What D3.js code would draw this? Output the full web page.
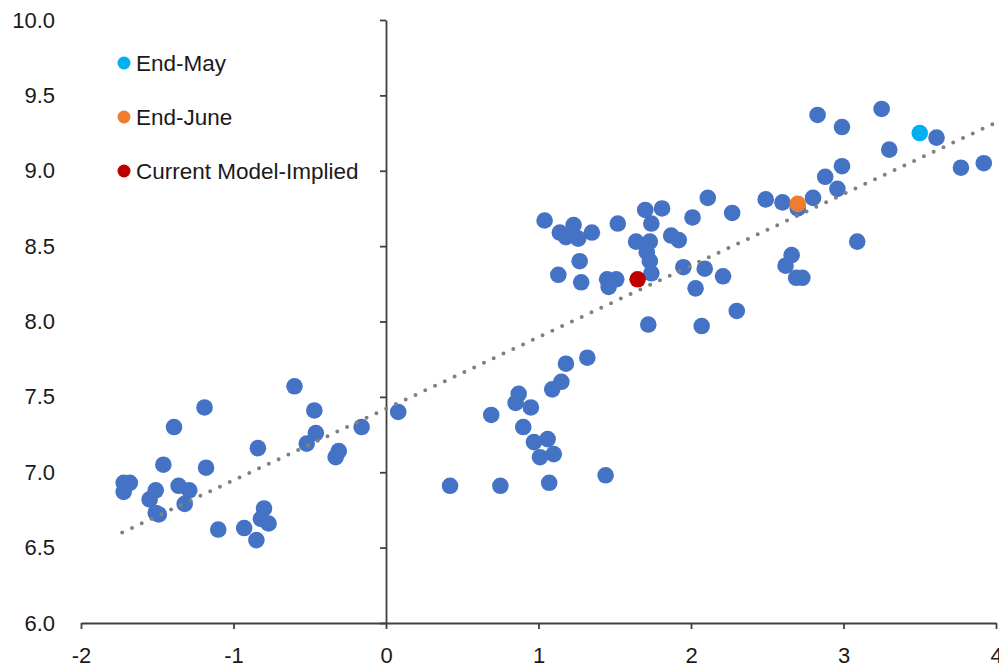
<!DOCTYPE html>
<html>
<head>
<meta charset="utf-8">
<script src="https://cdn.jsdelivr.net/npm/d3@7"></script>
<style>
  body { margin: 0; background: #fff; }
  text { font-family: "Liberation Sans", Arial, sans-serif; fill: #1a1a1a; }
  .axis path, .axis line { stroke: #404040; stroke-width: 1.8; }
  .axis text { font-size: 22px; fill: #1a1a1a; }
  .legend text { font-size: 22.5px; }
</style>
</head>
<body>
<div id="chart"></div>
<script>
const W = 999, H = 671;
const margin = { top: 20, right: 3, bottom: 48, left: 81 };
const width = W - margin.left - margin.right,
      height = H - margin.top - margin.bottom;

// scatter values
const xVals = [-0.60, -1.19, -1.39, -0.47, -0.16, -0.46, -0.52, -0.84, -0.31, -0.33,
  -1.46, -1.18, -1.72, -1.68, -1.72, -1.36, -1.29, -1.51, -1.55, -1.32,
  -1.51, -1.49, -0.80, -0.82, -0.77, -1.10, -0.93, -0.85, 0.08, 0.69,
  0.87, 0.85, 0.95, 0.90, 0.97, 1.06, 1.10, 1.01, 0.42, 0.75,
  1.07, 1.44, 1.09, 1.15, 1.18, 1.32, 1.04, 1.14, 1.23, 1.18,
  1.26, 1.35, 1.52, 1.27, 1.13, 1.28, 1.46, 1.51, 1.45, 1.70,
  1.81, 1.74, 1.64, 1.73, 1.71, 1.73, 1.74, 1.87, 1.92, 2.01,
  2.11, 2.27, 2.49, 1.95, 2.09, 2.21, 2.03, 2.30, 1.72, 2.07,
  2.83, 2.99, 3.25, 3.61, 3.30, 3.77, 3.92, 2.99, 2.88, 2.96,
  2.60, 2.80, 2.70, 3.09, 2.66, 2.62, 2.73, 2.69];
const yVals = [7.57, 7.43, 7.30, 7.41, 7.30, 7.26, 7.19, 7.16, 7.14, 7.10,
  7.05, 7.03, 6.93, 6.93, 6.87, 6.91, 6.88, 6.88, 6.82, 6.79,
  6.73, 6.72, 6.76, 6.69, 6.66, 6.62, 6.63, 6.55, 7.40, 7.38,
  7.52, 7.46, 7.43, 7.30, 7.20, 7.22, 7.12, 7.10, 6.91, 6.91,
  6.93, 6.98, 7.55, 7.60, 7.72, 7.76, 8.67, 8.59, 8.64, 8.56,
  8.55, 8.59, 8.65, 8.40, 8.31, 8.26, 8.23, 8.28, 8.28, 8.74,
  8.75, 8.65, 8.53, 8.53, 8.46, 8.40, 8.32, 8.57, 8.54, 8.69,
  8.82, 8.72, 8.81, 8.36, 8.35, 8.30, 8.22, 8.07, 7.98, 7.97,
  9.37, 9.29, 9.41, 9.22, 9.14, 9.02, 9.05, 9.03, 8.96, 8.88,
  8.79, 8.82, 8.75, 8.53, 8.44, 8.37, 8.29, 8.29];

const specialNames = ['End-May', 'End-June', 'Current Model-Implied'];
const specialX = [3.50, 2.70, 1.65];
const specialY = [9.25, 8.78, 8.28];
const specialColors = ['#00b0f0', '#ed7d31', '#c00000'];

// dotted trend line end points
const trendX = [-1.73, 4.0];
const trendY = [6.60, 9.32];

const xTicks = [-2, -1, 0, 1, 2, 3, 4];
const yTicks = [6.0, 6.5, 7.0, 7.5, 8.0, 8.5, 9.0, 9.5, 10.0];

const points = xVals.map((x, i) => ({ x: x, y: yVals[i] }));
const specials = specialNames.map((n, i) => ({ name: n, x: specialX[i], y: specialY[i], color: specialColors[i] }));
const trend = trendX.map((x, i) => [x, trendY[i]]);

const svg = d3.select('#chart').append('svg')
  .attr('width', W)
  .attr('height', H);

const g = svg.append('g')
  .attr('transform', 'translate(' + margin.left + ',' + margin.top + ')');

const xScale = d3.scaleLinear().domain([-2, 4]).range([0, width]);
const yScale = d3.scaleLinear().domain([6, 10]).range([height, 0]);

// y axis sits on x = 0, labels pushed out to the left edge (right end at x=55)
const labelRight = 55;
const yAxis = d3.axisLeft(yScale)
  .tickValues(yTicks)
  .tickFormat(d3.format('.1f'))
  .tickSize(6)
  .tickSizeOuter(0)
  .tickPadding(margin.left + xScale(0) - labelRight - 6);

g.append('g')
  .attr('class', 'axis yaxis')
  .attr('transform', 'translate(' + xScale(0) + ',0)')
  .call(yAxis);

const xAxis = d3.axisBottom(xScale)
  .tickValues(xTicks)
  .tickFormat(d3.format('d'))
  .tickSize(6)
  .tickSizeOuter(0)
  .tickPadding(18);

g.append('g')
  .attr('class', 'axis xaxis')
  .attr('transform', 'translate(0,' + height + ')')
  .call(xAxis);

g.selectAll('.xaxis text').text(d => d < 0 ? '-' + Math.abs(d) : d);

// scatter
g.append('g').selectAll('circle')
  .data(points)
  .enter().append('circle')
    .attr('cx', d => xScale(d.x))
    .attr('cy', d => yScale(d.y))
    .attr('r', 8.3)
    .attr('fill', '#4472c4');

const line = d3.line()
  .x(d => xScale(d[0]))
  .y(d => yScale(d[1]));

g.append('path')
  .datum(trend)
  .attr('d', line)
  .attr('fill', 'none')
  .attr('stroke', '#808080')
  .attr('stroke-width', 4)
  .attr('stroke-linecap', 'round')
  .attr('stroke-dasharray', '0 10.8');

g.append('g').selectAll('circle')
  .data(specials)
  .enter().append('circle')
    .attr('cx', d => xScale(d.x))
    .attr('cy', d => yScale(d.y))
    .attr('r', 8.3)
    .attr('fill', d => d.color);

// legend
const legend = svg.append('g')
  .attr('class', 'legend')
  .selectAll('g')
  .data(specials)
  .enter().append('g')
    .attr('transform', (d, i) => 'translate(124,' + (63 + i * 54) + ')');

legend.append('circle')
  .attr('r', 6.5)
  .attr('fill', d => d.color);

legend.append('text')
  .attr('x', 12)
  .attr('dy', '0.36em')
  .text(d => d.name);
</script>
</body>
</html>
